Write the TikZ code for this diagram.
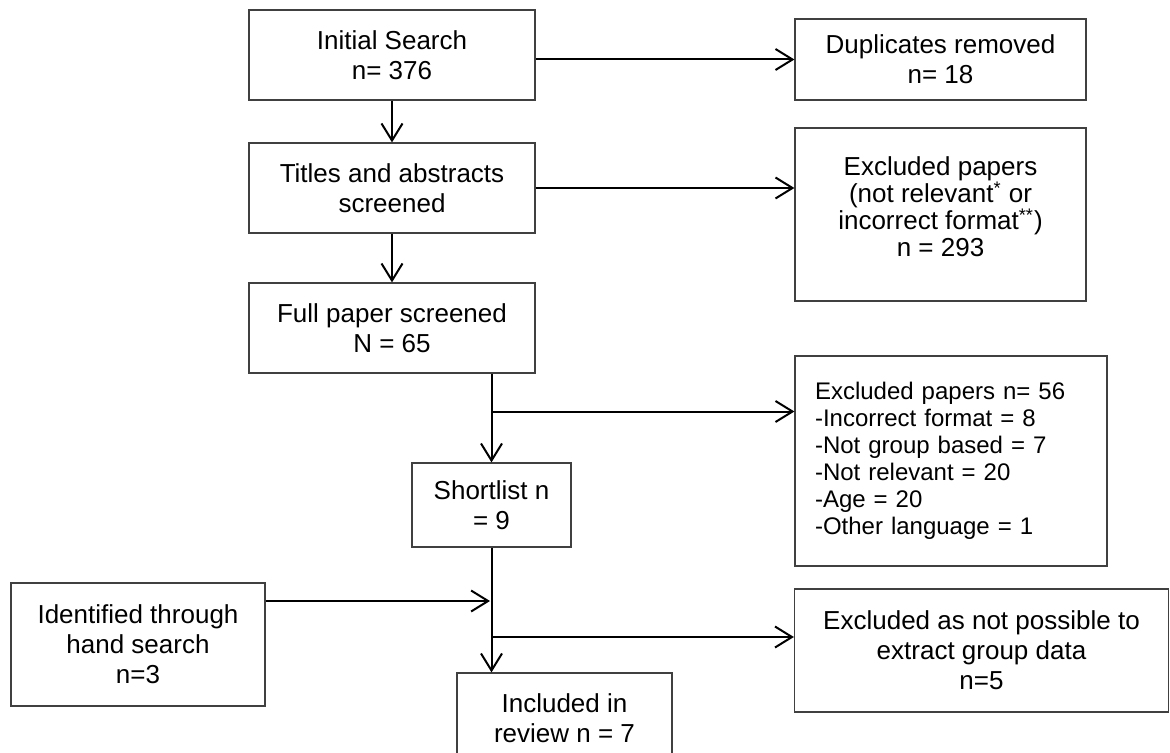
\documentclass[tikz,border=0pt]{standalone}
\usepackage{fontspec}
\setmainfont{Liberation Sans}
\usetikzlibrary{arrows.meta}
\tikzset{
  box/.style={draw=black!75, line width=0.6pt, align=center, inner sep=2pt,
    font=\fontsize{13pt}{15pt}\selectfont},
  arr/.style={line width=1pt, -{Straight Barb[length=8.5pt,width=10.5pt]}},
}
\begin{document}
\begin{tikzpicture}[x=0.5pt,y=-0.5pt]
\useasboundingbox (0,0) rectangle (1170,753);
\clip (0,0) rectangle (1170,753);
\node[box, minimum width=143pt, minimum height=45pt] (init) at (392,55) {Initial Search\\n= 376};
\node[box, minimum width=145.5pt, minimum height=40.5pt] (dup) at (940.5,59.5) {Duplicates removed\\n= 18};
\node[box, minimum width=143pt, minimum height=45pt] (titles) at (392,188) {Titles and abstracts\\screened};
\node[box, minimum width=145.5pt, minimum height=86.5pt, font=\fontsize{13pt}{13.5pt}\selectfont] (excl1) at (940.5,214.5)
  {Excluded papers\\(not relevant\textsuperscript{*} or\\incorrect format\textsuperscript{**})\\n = 293\\[-6pt]};
\node[box, minimum width=143pt, minimum height=45pt] (full) at (392,328) {Full paper screened\\N = 65};
\node[box, align=left, inner xsep=10pt, text width=136pt, minimum height=105pt, font=\fontsize{12pt}{13.5pt}\selectfont] (excl2) at (951,461)
  {Excluded papers n= 56\\-Incorrect format = 8\\-Not group based = 7\\-Not relevant = 20\\-Age = 20\\-Other language = 1};
\node[box, minimum width=79.5pt, minimum height=42pt] (short) at (491.5,505) {Shortlist n\\= 9};
\node[box, minimum width=127pt, minimum height=61.5pt] (hand) at (138,644.5) {Identified through\\hand search\\n=3};
\node[box, minimum width=187pt, minimum height=61.5pt] (excl3) at (981.5,650.5) {Excluded as not possible to\\extract group data\\n=5};
\node[box, minimum width=107.5pt, minimum height=45pt] (incl) at (564.5,718) {Included in\\review n = 7};
\coordinate (b1) at (491.5,411.5);
\coordinate (h1) at (490,601);
\coordinate (b2) at (491.5,637);
\draw[arr] (init.east |- dup.west) -- (dup.west);
\draw[arr] (init.south) -- (titles.north);
\draw[arr] (titles.east) -- (titles.east -| excl1.west);
\draw[arr] (titles.south) -- (full.north);
\draw[arr] (full.south -| short.north) -- (short.north);
\draw[arr] (b1) -- (b1 -| excl2.west);
\draw[arr] (short.south) -- (short.south |- incl.north);
\draw[arr] (hand.east |- h1) -- (h1);
\draw[arr] (b2) -- (b2 -| excl3.west);
\end{tikzpicture}
\end{document}
